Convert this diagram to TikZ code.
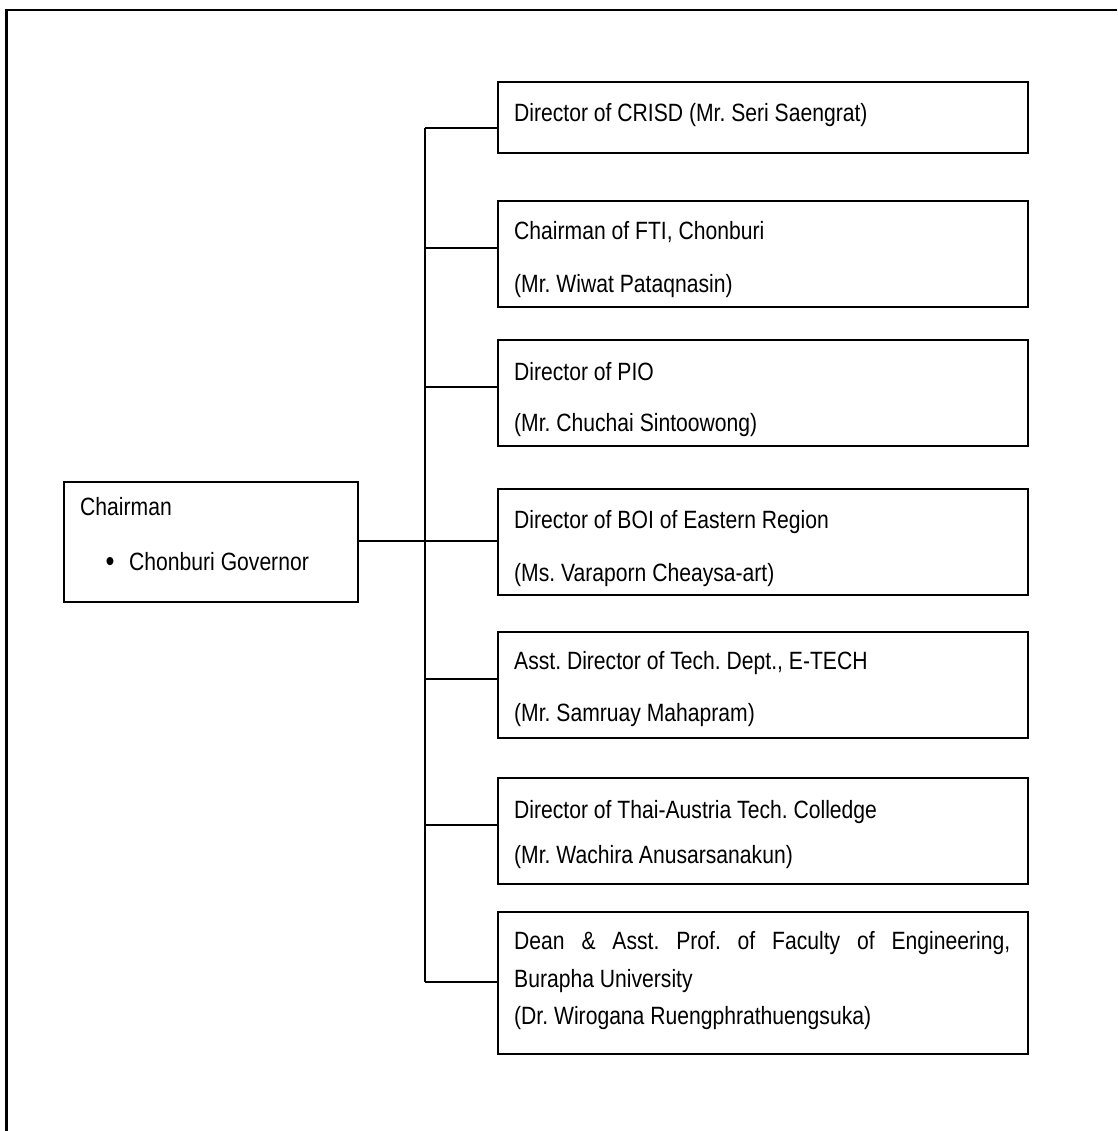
\documentclass[tikz,border=0pt]{standalone}
\usepackage{fontspec}
\setmainfont{Liberation Sans}[FakeStretch=0.845]
\frenchspacing
\begin{document}
\begin{tikzpicture}[x=1pt,y=-1pt,
  box/.style={draw,line width=2pt,inner sep=0pt,anchor=north west,minimum width=530pt,minimum height=106pt},
  txt/.style={anchor=base west,inner sep=0pt,font=\fontsize{25}{30}\selectfont\frenchspacing},
  conn/.style={line width=1.6pt},
  frame/.style={line width=2.2pt}]
\useasboundingbox (0,0) rectangle (1117,1131);
\fill[white] (0,0) rectangle (1117,1131);
\draw[frame] (6.5,1131) -- (6.5,10) -- (1117,10);

% boxes
\node[box,minimum width=294pt,minimum height=120pt] (ch) at (63,481) {};
\node[box,minimum height=71pt] (b1) at (497,81) {};
\node[box] (b2) at (497,200) {};
\node[box] (b3) at (497,339) {};
\node[box] (b4) at (497,488) {};
\node[box] (b5) at (497,631) {};
\node[box] (b6) at (497,777) {};
\node[box,minimum height=142pt] (b7) at (497,911) {};

% texts
\node[txt] (cha) at (80,515) {Chairman};
\node[txt,anchor=base,font=\fontsize{30}{30}\selectfont] (chb) at (110,571) {•};
\node[txt] (chc) at (129,570) {Chonburi Governor};
\node[txt] (b1a) at (514,122) {Director of CRISD (Mr. Seri Saengrat)};
\node[txt] (b2a) at (514,240) {Chairman of FTI, Chonburi};
\node[txt] (b2b) at (514,292) {(Mr. Wiwat Pataqnasin)};
\node[txt] (b3a) at (514,380) {Director of PIO};
\node[txt] (b3b) at (514,431) {(Mr. Chuchai Sintoowong)};
\node[txt] (b4a) at (514,528) {Director of BOI of Eastern Region};
\node[txt] (b4b) at (514,581) {(Ms. Varaporn Cheaysa-art)};
\node[txt] (b5a) at (514,669) {Asst. Director of Tech. Dept., E-TECH};
\node[txt] (b5b) at (514,721) {(Mr. Samruay Mahapram)};
\node[txt] (b6a) at (514,818) {Director of Thai-Austria Tech. Colledge};
\node[txt] (b6b) at (514,863) {(Mr. Wachira Anusarsanakun)};
\node[txt] (b7a) at (514,949) {\makebox[496pt][s]{Dean \& Asst. Prof. of Faculty of Engineering,}};
\node[txt] (b7b) at (514,987) {Burapha University};
\node[txt] (b7c) at (514,1024) {(Dr. Wirogana Ruengphrathuengsuka)};

% trunk coordinates
\coordinate (t1) at (425,128);
\coordinate (t2) at (425,248);
\coordinate (t3) at (425,387);
\coordinate (t4) at (425,541);
\coordinate (t5) at (425,679);
\coordinate (t6) at (425,825);
\coordinate (t7) at (425,982);

\draw[conn] (t1) -- (t7);
\draw[conn] (ch.east |- t4) -- (t4 -| b4.west);
\draw[conn] (t1) -- (t1 -| b1.west);
\draw[conn] (t2) -- (t2 -| b2.west);
\draw[conn] (t3) -- (t3 -| b3.west);
\draw[conn] (t5) -- (t5 -| b5.west);
\draw[conn] (t6) -- (t6 -| b6.west);
\draw[conn] (t7) -- (t7 -| b7.west);
\end{tikzpicture}
\end{document}
